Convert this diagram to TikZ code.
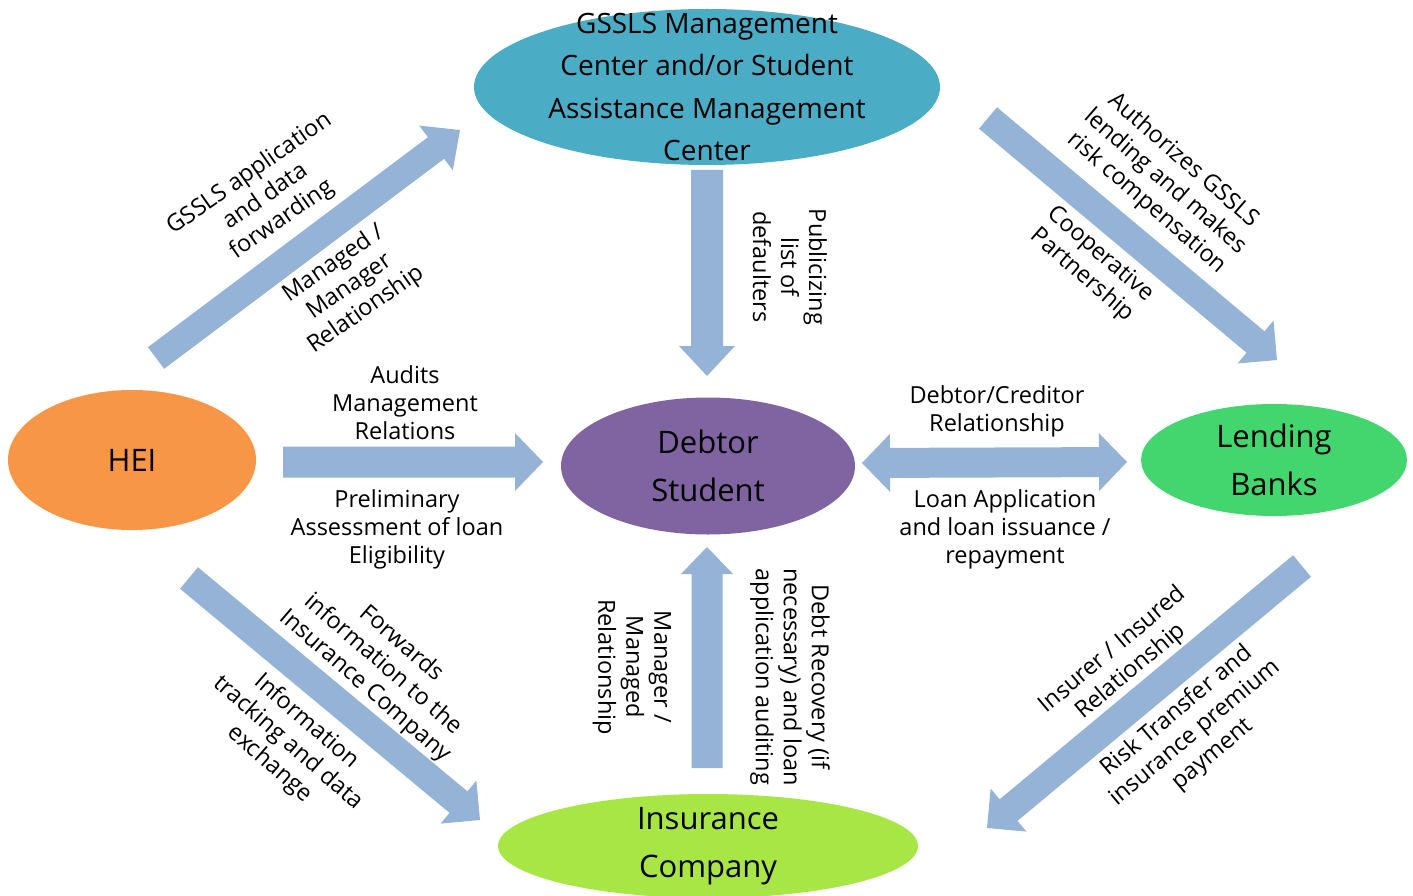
\documentclass[tikz,border=0pt]{standalone}
\usepackage{fontspec}
\setmainfont{Open Sans}
\usetikzlibrary{shapes.geometric,calc}

\definecolor{centerteal}{RGB}{75,172,198}
\definecolor{heiorange}{RGB}{247,150,70}
\definecolor{debtorpurple}{RGB}{128,100,162}
\definecolor{bankgreen}{RGB}{68,214,110}
\definecolor{insurelime}{RGB}{168,230,70}
\definecolor{arrowblue}{RGB}{149,179,215}

\tikzset{
  blob/.style={ellipse, inner sep=0pt, draw=none, fill=#1},
  nodetext/.style={font=\fontsize{31}{48}\selectfont, align=center, text=black},
  edgetext/.style={font=\fontsize{23.5}{28}\selectfont, align=center, text=black, inner sep=0pt},
  arrowfill/.style={fill=arrowblue, draw=none}
}

% single-headed block arrow: tail, tip, half shaft width, half head width, head length
\newcommand\blockarrow[5]{%
  \coordinate (hb) at ($(#2)!#5!(#1)$);
  \fill[arrowfill] ($(#1)!#3!90:(#2)$) -- ($(hb)!#3!90:(#2)$) -- ($(hb)!#4!90:(#2)$)
    -- (#2) -- ($(hb)!#4!-90:(#2)$) -- ($(hb)!#3!-90:(#2)$) -- ($(#1)!#3!-90:(#2)$) -- cycle;}

% double-headed block arrow: end, end, half shaft width, half head width, head length
\newcommand\twowayarrow[5]{%
  \coordinate (hbA) at ($(#2)!#5!(#1)$);
  \coordinate (hbB) at ($(#1)!#5!(#2)$);
  \fill[arrowfill] (#1) -- ($(hbB)!#4!90:(#2)$) -- ($(hbB)!#3!90:(#2)$)
    -- ($(hbA)!#3!90:(#2)$) -- ($(hbA)!#4!90:(#2)$) -- (#2)
    -- ($(hbA)!#4!-90:(#2)$) -- ($(hbA)!#3!-90:(#2)$)
    -- ($(hbB)!#3!-90:(#2)$) -- ($(hbB)!#4!-90:(#2)$) -- cycle;}

\begin{document}
\begin{tikzpicture}[x=1pt, y=-1pt]
  \useasboundingbox (0,0) rectangle (1413,896);
  \clip (0,0) rectangle (1413,896);

  % actors
  \node[blob=centerteal, minimum width=466pt, minimum height=156pt] (center) at (707,87) {};
  \node[nodetext, font=\fontsize{28}{42.5}\selectfont] (centerlabel) at (707,87)
    {GSSLS Management\\Center and/or Student\\Assistance Management\\Center};
  \node[blob=heiorange, minimum width=248pt, minimum height=140pt] (hei) at (132,460) {};
  \node[nodetext] (heilabel) at (hei.center) {HEI};
  \node[blob=debtorpurple, minimum width=294pt, minimum height=137pt] (debtor) at (708,466) {};
  \node[nodetext] (debtorlabel) at (debtor.center) {Debtor\\Student};
  \node[blob=bankgreen, minimum width=266pt, minimum height=112pt] (banks) at (1274,460) {};
  \node[nodetext] (bankslabel) at (banks.center) {Lending\\Banks};
  \node[blob=insurelime, minimum width=420pt, minimum height=104pt] (insurer) at (708,846) {};
  \node[nodetext] (insurerlabel) at (insurer.center) {Insurance\\Company};

  % arrow ends
  \coordinate (heiUpTail) at (156,358);     \coordinate (heiUpTip) at (460,130);
  \coordinate (centerDownTail) at (707,170); \coordinate (centerDownTip) at (707,376);
  \coordinate (heiRightTail) at (283,462);  \coordinate (heiRightTip) at (543,462);
  \coordinate (insurerUpTail) at (707,768); \coordinate (insurerUpTip) at (707,547);
  \coordinate (loanLeft) at (862,463);      \coordinate (loanRight) at (1127,462);
  \coordinate (centerBankTail) at (988,118); \coordinate (centerBankTip) at (1277,360);
  \coordinate (heiInsTail) at (189,578);    \coordinate (heiInsTip) at (480,820);
  \coordinate (bankInsTail) at (1302,566);  \coordinate (bankInsTip) at (987,828);

  % arrows
  \blockarrow{heiUpTail}{heiUpTip}{13.5pt}{28pt}{30pt}
  \blockarrow{centerDownTail}{centerDownTip}{16pt}{28pt}{30pt}
  \blockarrow{heiRightTail}{heiRightTip}{15.5pt}{29pt}{28pt}
  \blockarrow{insurerUpTail}{insurerUpTip}{15.5pt}{26pt}{27pt}
  \twowayarrow{loanLeft}{loanRight}{15pt}{29pt}{28pt}
  \blockarrow{centerBankTail}{centerBankTip}{14pt}{28pt}{28pt}
  \blockarrow{heiInsTail}{heiInsTip}{14pt}{28pt}{28pt}
  \blockarrow{bankInsTail}{bankInsTip}{14pt}{28pt}{28pt}

  % labels on the arrows
  \node[edgetext, rotate=35] (lblForward) at (266,197) {GSSLS application\\and data\\forwarding};
  \node[edgetext, rotate=35] (lblManaged) at (350,287) {Managed /\\Manager\\Relationship};
  \node[edgetext] (lblAudits) at (405,403) {Audits\\Management\\Relations};
  \node[edgetext] (lblPrelim) at (397,529) {Preliminary\\Assessment of loan\\Eligibility};
  \node[edgetext, rotate=-90] (lblPublic) at (790,267) {Publicizing\\list of\\defaulters};
  \node[edgetext, rotate=-90] (lblManager) at (632,667) {Manager /\\Managed\\Relationship};
  \node[edgetext, rotate=-90] (lblRecovery) at (790,677) {Debt Recovery (if\\necessary) and loan\\application auditing};
  \node[edgetext, rotate=-41] (lblAuth) at (1165,182) {Authorizes GSSLS\\lending and makes\\risk compensation};
  \node[edgetext, rotate=-41] (lblCoop) at (1091,265) {Cooperative\\Partnership};
  \node[edgetext] (lblDebtCred) at (997,411) {Debtor/Creditor\\Relationship};
  \node[edgetext] (lblLoan) at (1005,529) {Loan Application\\and loan issuance /\\repayment};
  \node[edgetext, rotate=-41] (lblFwdIns) at (383,665) {Forwards\\information to the\\Insurance Company};
  \node[edgetext, rotate=-41] (lblTrack) at (288,743) {Information\\tracking and data\\exchange};
  \node[edgetext, rotate=40] (lblInsured) at (1122,661) {Insurer / Insured\\Relationship};
  \node[edgetext, rotate=40] (lblRisk) at (1195,733) {Risk Transfer and\\insurance premium\\payment};
\end{tikzpicture}
\end{document}
